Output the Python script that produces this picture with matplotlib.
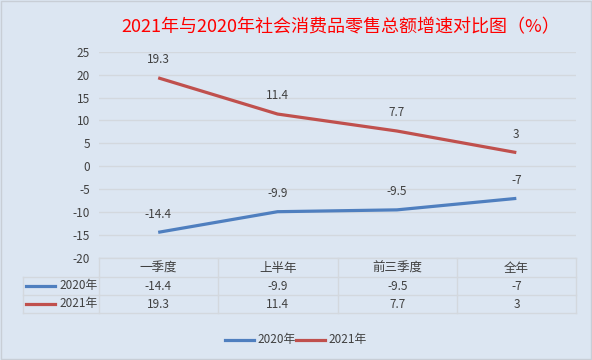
import matplotlib
matplotlib.use('Agg')
import matplotlib.pyplot as plt
from matplotlib.lines import Line2D

plt.rcParams['font.family'] = ['Noto Sans CJK SC', 'DejaVu Sans']

TITLE = '2021年与2020年社会消费品零售总额增速对比图（%）'
categories = ['一季度', '上半年', '前三季度', '全年']
series_names = ['2020年', '2021年']
values_2020 = [-14.4, -9.9, -9.5, -7]
values_2021 = [19.3, 11.4, 7.7, 3]
colors = ['#4F7FBF', '#C0504D']
y_ticks = list(range(-20, 30, 5))

BG = '#DCE6F2'
GRID = '#D3D8DE'
TXT = '#404040'
W, H = 592, 360


def fx(px):
    return px / W


def fy(py):
    return 1 - py / H


fig = plt.figure(figsize=(W / 100, H / 100), dpi=100)
fig.patch.set_facecolor(BG)
# light outer border
fig.add_artist(plt.Rectangle((0.001, 0.002), 0.997, 0.995, transform=fig.transFigure,
                             fill=False, edgecolor='#C8CED6', linewidth=1))

left, right, top, bottom = 98.5, 576, 51.7, 258
ax = fig.add_axes([fx(left), fy(bottom), fx(right - left), (bottom - top) / H])
ax.set_facecolor(BG)
ax.set_xlim(-0.5, len(categories) - 0.5)
ax.set_ylim(-20, 25)
ax.set_yticks(y_ticks)
ax.set_yticklabels([str(t) for t in y_ticks], fontsize=8.5, color=TXT)
ax.set_xticks([])
ax.tick_params(axis='y', length=0, pad=6)
for s in ax.spines.values():
    s.set_visible(False)
ax.grid(axis='y', color=GRID, linewidth=1)
ax.set_axisbelow(True)

x = list(range(len(categories)))
for vals, c in zip([values_2020, values_2021], colors):
    ax.plot(x, vals, color=c, linewidth=2.3, solid_capstyle='butt')
    for xi, v in zip(x, vals):
        ax.annotate(f'{v:g}', (xi, v), xytext=(0, 8.5), textcoords='offset points',
                    ha='center', va='bottom', fontsize=8.5, color=TXT)

fig.text(fx(340.5), fy(27), TITLE, ha='center', va='center', fontsize=13,
         fontweight='light', color='#FF0000')

# data table under the plot
col_edges = [98.5, 218, 337.5, 457, 576]
row_edges = [258, 277, 295, 313]
tl = dict(color='#D3D8DE', linewidth=1, transform=fig.transFigure)
fig.add_artist(Line2D([fx(col_edges[0]), fx(col_edges[-1])], [fy(258), fy(258)], **tl))
for ry in row_edges[1:]:
    fig.add_artist(Line2D([fx(23), fx(col_edges[-1])], [fy(ry), fy(ry)], **tl))
for cx in col_edges:
    fig.add_artist(Line2D([fx(cx), fx(cx)], [fy(258), fy(313)], **tl))
fig.add_artist(Line2D([fx(23), fx(23)], [fy(277), fy(313)], **tl))

for i, cat in enumerate(categories):
    cx = (col_edges[i] + col_edges[i + 1]) / 2
    fig.text(fx(cx), fy(268.5), cat, ha='center', va='center', fontsize=9, color=TXT)
    fig.text(fx(cx), fy(286), f'{values_2020[i]:g}', ha='center', va='center', fontsize=8.5, color=TXT)
    fig.text(fx(cx), fy(304), f'{values_2021[i]:g}', ha='center', va='center', fontsize=8.5, color=TXT)

for name, c, ry in zip(series_names, colors, [286, 304]):
    fig.add_artist(Line2D([fx(26), fx(55)], [fy(ry), fy(ry)], color=c, linewidth=2.3,
                          transform=fig.transFigure))
    fig.text(fx(59), fy(ry), name, ha='left', va='center', fontsize=8.5, color=TXT)

# legend at bottom
for name, c, lx in zip(series_names, colors, [225, 296]):
    fig.add_artist(Line2D([fx(lx), fx(lx + 29)], [fy(340), fy(340)], color=c, linewidth=2.3,
                          transform=fig.transFigure))
    fig.text(fx(lx + 32), fy(340), name, ha='left', va='center', fontsize=8.5, color=TXT)

fig.savefig('out.png', dpi=100, facecolor=BG)
